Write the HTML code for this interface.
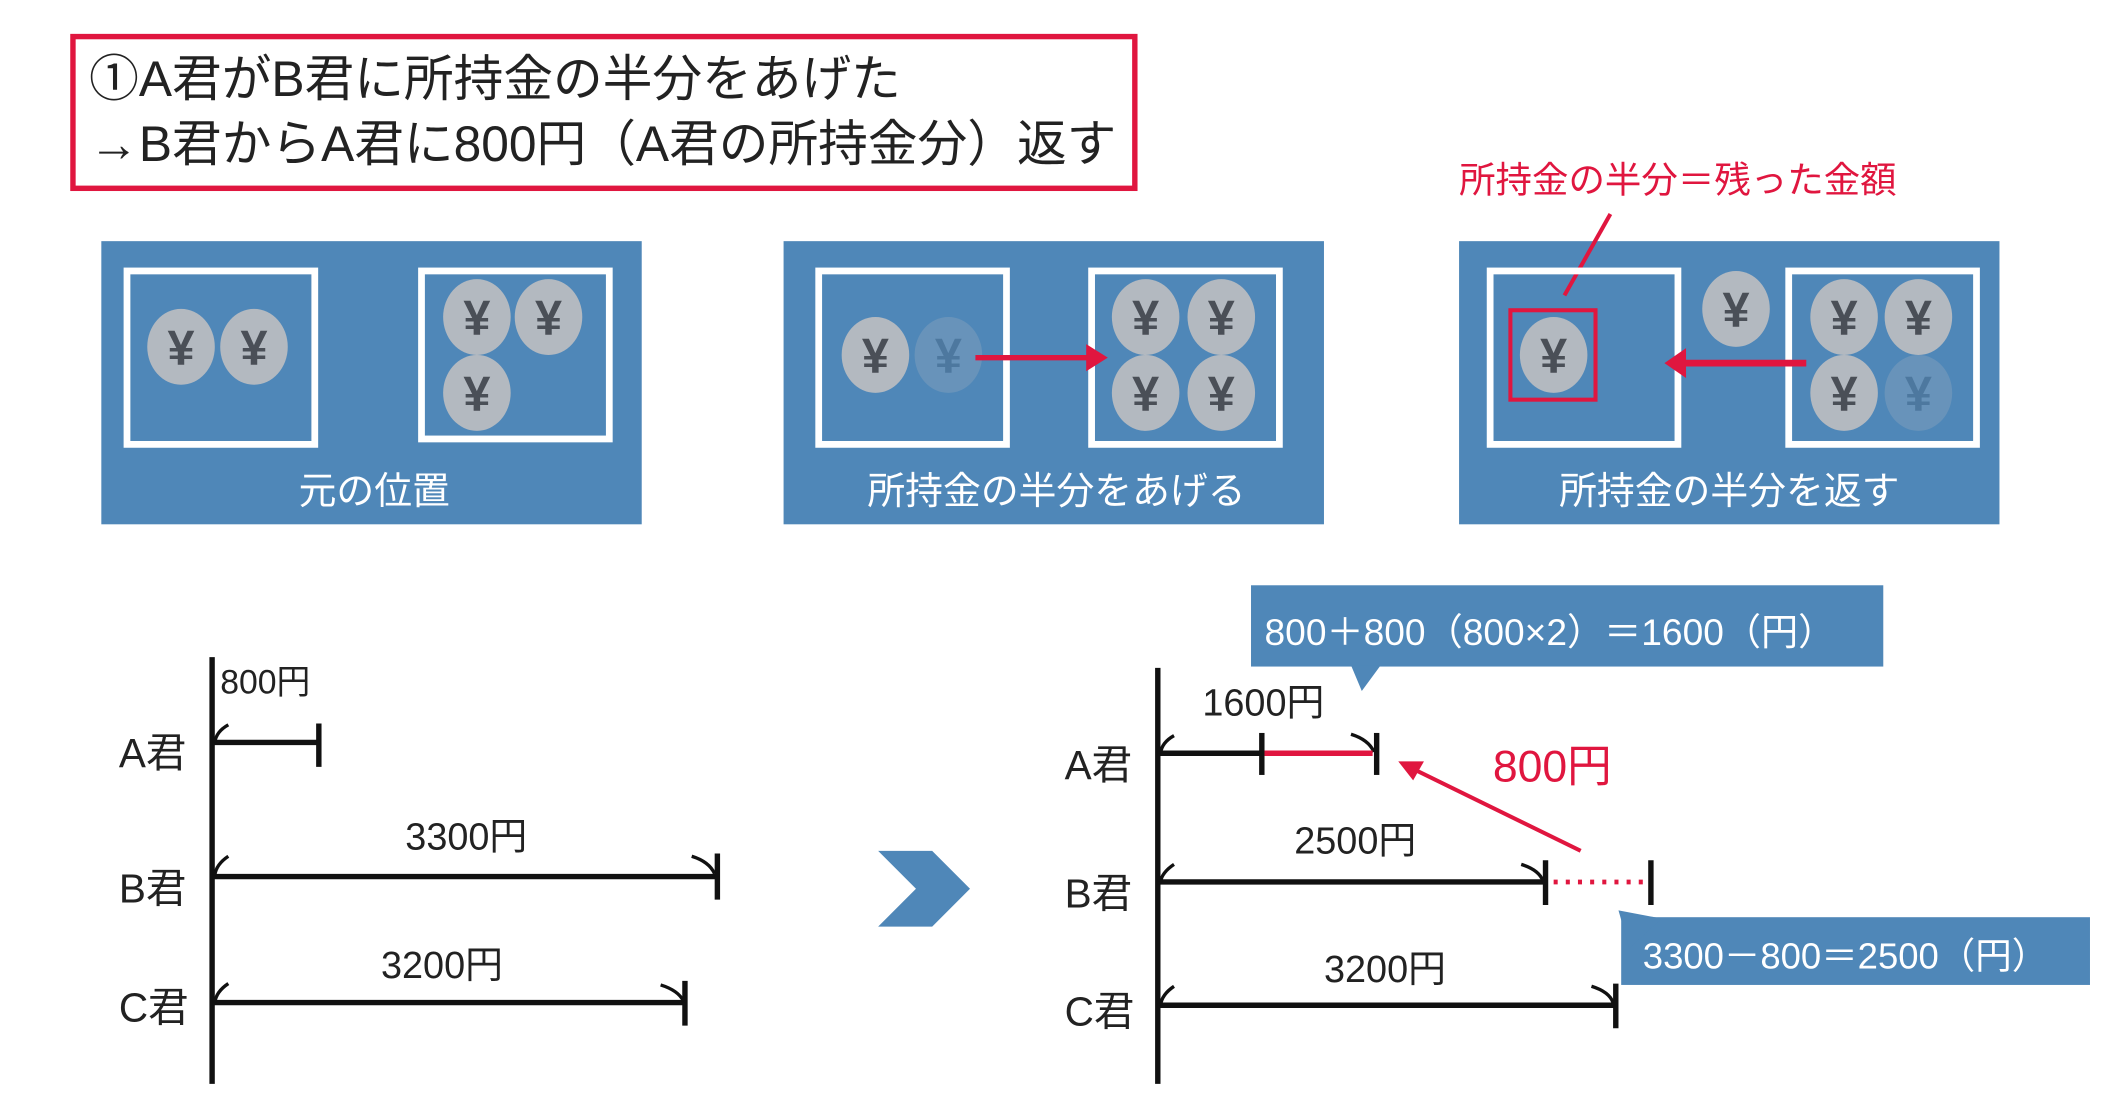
<!DOCTYPE html>
<html><head><meta charset="utf-8"><style>
html,body{margin:0;padding:0;background:#fff;}
svg{display:block;}
text{font-family:"Liberation Sans","Noto Sans CJK JP",sans-serif;}
</style></head><body>
<svg width="2117" height="1115" viewBox="0 0 1567 823" preserveAspectRatio="none" xmlns="http://www.w3.org/2000/svg">
<defs>
<g id="coin"><ellipse cx="0" cy="0" rx="25" ry="28" fill="#b3b9c0"/><text x="0" y="13" font-size="36" font-weight="bold" text-anchor="middle" fill="#4a4f57">¥</text></g>
<g id="fcoin" opacity="0.25"><ellipse cx="0" cy="0" rx="25" ry="28" fill="#b3b9c0"/><text x="0" y="13" font-size="36" font-weight="bold" text-anchor="middle" fill="#4a4f57">¥</text></g>
</defs>
<!-- title box -->
<rect x="54" y="27" width="786" height="112" fill="#fff" stroke="#e0163f" stroke-width="4"/>
<text x="66" y="71" font-size="36.8" fill="#222">①A君がB君に所持金の半分をあげた</text>
<text x="66" y="119" font-size="36.8" fill="#222">→B君からA君に800円（A君の所持金分）返す</text>

<!-- panel 1 -->
<rect x="75" y="178" width="400" height="209" fill="#4f87b8"/>
<rect x="94" y="200" width="139" height="128" fill="none" stroke="#fff" stroke-width="5"/>
<rect x="312" y="200" width="139" height="124" fill="none" stroke="#fff" stroke-width="5"/>
<use href="#coin" x="134" y="256"/><use href="#coin" x="188" y="256"/>
<use href="#coin" x="353" y="234"/><use href="#coin" x="406" y="234"/><use href="#coin" x="353" y="290"/>
<text x="277" y="372" font-size="28" fill="#fff" text-anchor="middle">元の位置</text>

<!-- panel 2 -->
<rect x="580" y="178" width="400" height="209" fill="#4f87b8"/>
<rect x="606" y="200" width="139" height="128" fill="none" stroke="#fff" stroke-width="5"/>
<rect x="808" y="200" width="139" height="128" fill="none" stroke="#fff" stroke-width="5"/>
<use href="#coin" x="648" y="262"/><use href="#fcoin" x="702" y="262"/>
<line x1="722" y1="264" x2="806" y2="264" stroke="#e0163f" stroke-width="4"/>
<polygon points="820,264 804,254 804,274" fill="#e0163f"/>
<use href="#coin" x="848" y="234"/><use href="#coin" x="904" y="234"/><use href="#coin" x="848" y="290"/><use href="#coin" x="904" y="290"/>
<text x="782" y="372" font-size="28" fill="#fff" text-anchor="middle">所持金の半分をあげる</text>

<!-- panel 3 -->
<text x="1080" y="142" font-size="27" fill="#e0163f">所持金の半分＝残った金額</text>
<rect x="1080" y="178" width="400" height="209" fill="#4f87b8"/>
<line x1="1192" y1="158" x2="1158" y2="218" stroke="#e0163f" stroke-width="3"/>
<rect x="1103" y="200" width="139" height="128" fill="none" stroke="#fff" stroke-width="5"/>
<rect x="1324" y="200" width="139" height="128" fill="none" stroke="#fff" stroke-width="5"/>
<use href="#coin" x="1150" y="262"/>
<rect x="1118" y="229" width="63" height="66" fill="none" stroke="#e0163f" stroke-width="3"/>
<use href="#coin" x="1285" y="228"/>
<line x1="1337" y1="268" x2="1245" y2="268" stroke="#e0163f" stroke-width="5"/>
<polygon points="1232,268 1248,257 1248,279" fill="#e0163f"/>
<use href="#coin" x="1365" y="234"/><use href="#coin" x="1420" y="234"/><use href="#coin" x="1365" y="290"/><use href="#fcoin" x="1420" y="290"/>
<text x="1280" y="372" font-size="28" fill="#fff" text-anchor="middle">所持金の半分を返す</text>

<!-- bottom left -->
<g stroke="#111" stroke-width="4" fill="none">
<line x1="157" y1="485" x2="157" y2="800"/>
<line x1="157" y1="548" x2="236" y2="548"/><line x1="236" y1="534" x2="236" y2="566"/>
<line x1="157" y1="647" x2="531" y2="647"/><line x1="531" y1="630" x2="531" y2="664"/>
<line x1="157" y1="740" x2="507" y2="740"/><line x1="507" y1="724" x2="507" y2="757"/>
</g>
<g stroke="#111" stroke-width="2.5" fill="none">
<path d="M169,535 Q160,540 159,548"/><path d="M169,632 Q160,638 159,646"/><path d="M169,726 Q160,732 159,740"/>
<path d="M512,632 Q525,636 529,645"/><path d="M489,727 Q502,731 506,739"/>
</g>
<g font-size="28" fill="#222">
<text x="88" y="566" font-size="30">A君</text><text x="88" y="666" font-size="30">B君</text><text x="88" y="754" font-size="30">C君</text>
<text x="163" y="512" font-size="25">800円</text>
<text x="300" y="627">3300円</text>
<text x="282" y="722">3200円</text>
</g>

<!-- chevron -->
<polygon points="650,628 690,628 718,656 690,684 650,684 678,656" fill="#4f87b8"/>

<!-- bottom right -->
<rect x="926" y="432" width="468" height="60" fill="#4f87b8"/>
<polygon points="1000,491 1022,491 1008,510" fill="#4f87b8"/>
<text x="936" y="476" font-size="27.5" fill="#fff">800＋800（800×2）＝1600（円）</text>

<g stroke="#111" stroke-width="4" fill="none">
<line x1="857" y1="493" x2="857" y2="800"/>
<line x1="857" y1="556" x2="934" y2="556"/>
<line x1="934" y1="541" x2="934" y2="572"/><line x1="1019" y1="541" x2="1019" y2="572"/>
<line x1="857" y1="651" x2="1144" y2="651"/><line x1="1144" y1="635" x2="1144" y2="668"/><line x1="1222" y1="635" x2="1222" y2="668"/>
<line x1="857" y1="742" x2="1196" y2="742"/><line x1="1196" y1="726" x2="1196" y2="759"/>
</g>
<g stroke="#111" stroke-width="2.5" fill="none">
<path d="M869,543 Q860,548 859,556"/><path d="M869,638 Q860,644 859,651"/><path d="M869,728 Q860,734 859,742"/>
<path d="M1000,542 Q1013,546 1017,555"/><path d="M1126,638 Q1139,642 1142,650"/><path d="M1178,728 Q1191,732 1194,740"/>
</g>
<line x1="936" y1="556" x2="1016" y2="556" stroke="#e0163f" stroke-width="4"/>
<line x1="1150" y1="651" x2="1220" y2="651" stroke="#e0163f" stroke-width="3.5" stroke-dasharray="3,6"/>
<line x1="1170" y1="628" x2="1047" y2="568" stroke="#e0163f" stroke-width="3"/>
<polygon points="1035,562 1054,562 1046,576" fill="#e0163f"/>
<text x="1105" y="577" font-size="33" fill="#e0163f">800円</text>
<g font-size="28" fill="#222">
<text x="788" y="575" font-size="30">A君</text><text x="788" y="670" font-size="30">B君</text><text x="788" y="757" font-size="30">C君</text>
<text x="890" y="528">1600円</text>
<text x="958" y="630">2500円</text>
<text x="980" y="725">3200円</text>
</g>
<rect x="1200" y="677" width="347" height="50" fill="#4f87b8"/>
<polygon points="1198,672 1230,678 1206,700" fill="#4f87b8"/>
<text x="1216" y="715" font-size="27" fill="#fff">3300－800＝2500（円）</text>
</svg>
</body></html>
